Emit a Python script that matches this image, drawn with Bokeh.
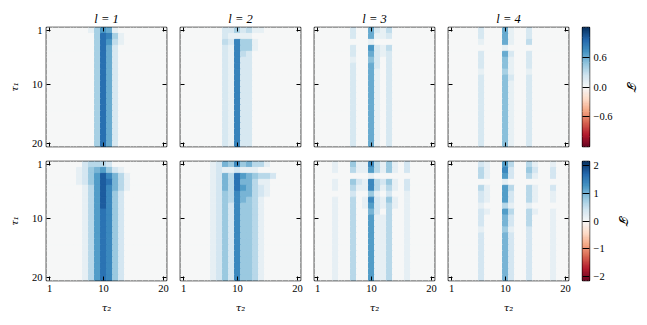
import numpy as np
from bokeh.plotting import figure
from bokeh.models import LinearAxis, FixedTicker, Range1d, LinearColorMapper, ColumnDataSource
from bokeh.layouts import row, column
from bokeh.transform import transform
from bokeh.embed import file_html
from bokeh.resources import INLINE

# ---------------- data ----------------
lags = [1, 2, 3, 4]
tau_ticks = [1, 10, 20]
tau_tick_labels = ["1", "10", "20"]

top_limit = 1.2          # colour range of the upper row (±)
bottom_limit = 2.16      # colour range of the lower row (±)
top_unit = 0.1           # value of one level step in the upper-row grids
bottom_unit = 0.2        # value of one level step in the lower-row grids
top_cbar_ticks = [-0.6, 0.0, 0.6]
top_cbar_labels = ["\u22120.6", "0.0", "0.6"]
bottom_cbar_ticks = [-2, -1, 0, 1, 2]
bottom_cbar_labels = ["\u22122", "\u22121", "0", "1", "2"]

# each string is one row tau1 = 1..20, each character one column tau2 = 1..20
top_l1 = (["00000001476100000000",
           "00000000498410000000",
           "00000000497310000000"]
          + ["00000000496200000000"] * 17)

top_l2 = (["00000002242311000000",
           "00000002111100000000",
           "00000003284410000000",
           "00000002184410000000",
           "00000002183200000000"]
          + ["00000002182200000000"] * 15)

top_l3 = (["00000020062130000000",
           "00000020061120000000",
           "00000000010000000000",
           "00000020072130000000",
           "00000020062120000000",
           "00000010052020000000",
           "00000020062020000000"]
          + ["00000020061020000000"] * 13)

top_l4 = (["00000200061002000000",
           "00000200061002000000",
           "00000100061003000000",
           "00000000010000000000",
           "00000200062002000000",
           "00000200051002000000",
           "00000200051002000000",
           "00000100041001000000",
           "00000200052002000000"]
          + ["00000200051002000000"] * 11)

bottom_l1 = (["00000023332000000000",
              "00000124564210000000",
              "00000124697531000000",
              "00000124698531000000",
              "00000013697531000000",
              "00000013697420000000",
              "00000013697420000000",
              "00000013697420000000"]
             + ["00000013687420000000"] * 12)

bottom_l2 = (["00000125474533100000",
              "00000121121110000000",
              "00000125386543320000",
              "00000125385531100000",
              "00000125386532100000",
              "00000124375532100000",
              "00000124375431000000"]
             + ["00000124274431000000"] * 13)

bottom_l3 = (["00010041173141020000",
              "00010031163141020000",
              "00000000010000000000",
              "00010042173241020000",
              "00010031173131020000",
              "00000020041020010000",
              "00010030172141010000",
              "00010030162131010000",
              "00010030052030010000"]
             + ["00010030061130010000"] * 11)

bottom_l4 = (["00000210063003100100",
              "00000310072004200200",
              "00000310062003100200",
              "00000000010000000000",
              "00000310063003100200",
              "00000210062003100100",
              "00000210062003100100",
              "00000100031001000000",
              "00000210063003100100",
              "00000200052003000100",
              "00000200052003000100",
              "00000100041002000100"]
             + ["00000200052002000100"] * 8)

top_grids = [top_l1, top_l2, top_l3, top_l4]
bottom_grids = [bottom_l1, bottom_l2, bottom_l3, bottom_l4]

# ---------------- styling ----------------
RDBU = ["#67001f", "#b2182b", "#d6604d", "#f4a582", "#fddbc7", "#f7f7f7",
        "#d1e5f0", "#92c5de", "#4393c3", "#2166ac", "#053061"]


def smooth_palette(anchors, n=256):
    rgb = np.array([[int(c[i:i + 2], 16) for i in (1, 3, 5)] for c in anchors], float)
    pos = np.linspace(0, 1, len(anchors))
    t = np.linspace(0, 1, n)
    out = []
    for k in range(n):
        r, g, b = (np.interp(t[k], pos, rgb[:, j]) for j in range(3))
        out.append("#%02x%02x%02x" % (int(round(r)), int(round(g)), int(round(b))))
    return out


PALETTE = smooth_palette(RDBU)
NUM_FONT = "Liberation Serif"
MATH_FONT = "DejaVu Serif"
FRAME_W, FRAME_H = 120, 119
PAGE_PAD = 8   # the page template has no body margin, so keep the 8px gap ourselves


def style_axis(ax, show_labels):
    ax.ticker = FixedTicker(ticks=tau_ticks, minor_ticks=[])
    ax.major_tick_in = 4
    ax.major_tick_out = 0
    ax.minor_tick_in = 0
    ax.minor_tick_out = 0
    ax.major_tick_line_color = "black"
    ax.major_tick_line_width = 1
    ax.minor_tick_line_color = None
    ax.axis_line_color = None
    if show_labels:
        ax.major_label_overrides = dict(zip(tau_ticks, tau_tick_labels))
        ax.major_label_text_font = NUM_FONT
        ax.major_label_text_font_size = "10.5px"
        ax.major_label_text_color = "black"
        ax.major_label_standoff = 4
    else:
        ax.major_label_overrides = {t: "" for t in tau_ticks}
        ax.major_label_text_font_size = "0px"
        ax.major_label_standoff = 0


def build_panel(grid, unit, limit, r, c, lag):
    mapper = LinearColorMapper(palette=PALETTE, low=-limit, high=limit)
    p = figure(frame_width=FRAME_W, frame_height=FRAME_H,
               x_range=Range1d(0.5, 20.5), y_range=Range1d(20.5, 0.5),
               output_backend="svg", toolbar_location=None,
               x_axis_location=None, y_axis_location=None,
               title=(f"l = {lag}" if r == 0 else None),
               min_border_left=38 + PAGE_PAD if c == 0 else 7, min_border_right=7,
               min_border_top=19 + PAGE_PAD if r == 0 else 8,
               min_border_bottom=7 if r == 0 else 37)
    xs, ys, vs = [], [], []
    for i, line in enumerate(grid):
        for j, ch in enumerate(line):
            xs.append(j + 1)
            ys.append(i + 1)
            vs.append(int(ch) * unit)
    src = ColumnDataSource(dict(x=xs, y=ys, v=vs))
    p.rect("x", "y", 1, 1, source=src, fill_color=transform("v", mapper),
           line_color=transform("v", mapper), line_width=1)
    p.outline_line_color = "black"
    p.outline_line_width = 1.6
    p.outline_line_alpha = 1.0
    p.background_fill_color = "#f7f7f7"
    p.border_fill_color = "white"

    below, left, above, right = LinearAxis(), LinearAxis(), LinearAxis(), LinearAxis()
    style_axis(below, r == 1)
    style_axis(left, c == 0)
    style_axis(above, False)
    style_axis(right, False)
    if r == 1:
        below.axis_label = "\u03c4\u2082"
        below.axis_label_text_font = MATH_FONT
        below.axis_label_text_font_style = "italic"
        below.axis_label_text_font_size = "10px"
        below.axis_label_text_color = "black"
        below.axis_label_standoff = 7
    if c == 0:
        left.axis_label = "\u03c4\u2081"
        left.axis_label_text_font = MATH_FONT
        left.axis_label_text_font_style = "italic"
        left.axis_label_text_font_size = "10px"
        left.axis_label_text_color = "black"
        left.axis_label_standoff = 9
    p.add_layout(below, "below")
    p.add_layout(left, "left")
    p.add_layout(above, "above")
    p.add_layout(right, "right")
    if r == 0:
        p.title.align = "center"
        p.title.text_font = NUM_FONT
        p.title.text_font_style = "italic"
        p.title.text_font_size = "12.5px"
        p.title.text_color = "black"
        p.title.standoff = 4
    return p


def build_cbar(limit, ticks, labels, r):
    p = figure(frame_width=7, frame_height=FRAME_H,
               x_range=Range1d(0, 1), y_range=Range1d(-limit, limit),
               output_backend="svg", toolbar_location=None, title=None,
               x_axis_location=None, y_axis_location=None,
               min_border_left=7, min_border_right=50,
               min_border_top=19 + PAGE_PAD if r == 0 else 8,
               min_border_bottom=7 if r == 0 else 37)
    edges = np.linspace(-limit, limit, 161)
    mids = 0.5 * (edges[:-1] + edges[1:])
    mapper = LinearColorMapper(palette=PALETTE, low=-limit, high=limit)
    src = ColumnDataSource(dict(b=edges[:-1], t=edges[1:], v=mids))
    p.quad(left=0, right=1, bottom="b", top="t", source=src,
           fill_color=transform("v", mapper), line_color=transform("v", mapper), line_width=0.6)
    p.outline_line_color = "black"
    p.outline_line_width = 1.4
    ax = LinearAxis()
    ax.ticker = FixedTicker(ticks=ticks, minor_ticks=[])
    ax.major_label_overrides = dict(zip(ticks, labels))
    ax.major_tick_in = 7
    ax.major_tick_out = 0
    ax.minor_tick_in = 0
    ax.minor_tick_out = 0
    ax.major_tick_line_color = "black"
    ax.major_tick_line_width = 1
    ax.minor_tick_line_color = None
    ax.axis_line_color = None
    ax.major_label_text_font = NUM_FONT
    ax.major_label_text_font_size = "10.5px"
    ax.major_label_text_color = "black"
    ax.major_label_standoff = 4
    ax.axis_label = "\U0001D4AF"
    ax.axis_label_text_font = MATH_FONT
    ax.axis_label_text_font_style = "normal"
    ax.axis_label_text_font_size = "12px"
    ax.axis_label_text_color = "black"
    ax.axis_label_standoff = 8
    p.add_layout(ax, "right")
    return p


top_row = [build_panel(g, top_unit, top_limit, 0, c, lag)
           for c, (g, lag) in enumerate(zip(top_grids, lags))]
top_row.append(build_cbar(top_limit, top_cbar_ticks, top_cbar_labels, 0))
bottom_row = [build_panel(g, bottom_unit, bottom_limit, 1, c, lag)
              for c, (g, lag) in enumerate(zip(bottom_grids, lags))]
bottom_row.append(build_cbar(bottom_limit, bottom_cbar_ticks, bottom_cbar_labels, 1))

layout = column(row(*top_row), row(*bottom_row))

with open("out.html", "w") as f:
    f.write(file_html(layout, INLINE))
